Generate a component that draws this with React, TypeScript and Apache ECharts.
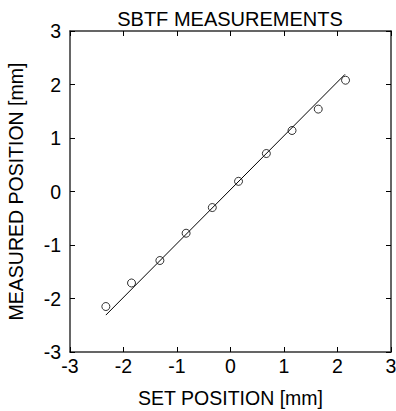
import React, { useEffect, useRef } from "react";
import * as echarts from "echarts";

const setPos = [-2.33, -1.85, -1.32, -0.83, -0.34, 0.15, 0.67, 1.15, 1.64, 2.15];
const measPos = [-2.15, -1.71, -1.29, -0.78, -0.3, 0.19, 0.71, 1.14, 1.54, 2.08];
const fitLine = [
  [-2.33, -2.31],
  [2.14, 2.19],
];
const ticks = [-3, -2, -1, 0, 1, 2, 3];

const FONT = "Liberation Sans, Arial, sans-serif";

export default function App() {
  const ref = useRef<HTMLDivElement>(null);
  useEffect(() => {
    if (!ref.current) return;
    const chart = echarts.init(ref.current, null, { renderer: "svg" });
    const axisLine = { show: true, onZero: false, lineStyle: { color: "#333", width: 1.5 } };
    const axisTick = { show: true, inside: true, length: 5, lineStyle: { color: "#000", width: 1 } };
    const base = {
      type: "value" as const,
      min: ticks[0],
      max: ticks[ticks.length - 1],
      interval: 1,
      splitLine: { show: false },
      axisLine,
      axisTick,
    };
    chart.setOption({
      animation: false,
      backgroundColor: "#fff",
      title: {
        text: "SBTF MEASUREMENTS",
        left: 225,
        textAlign: "center",
        top: 4,
        textStyle: { fontFamily: FONT, fontSize: 20, fontWeight: "normal", color: "#000" },
      },
      grid: {
        left: 70,
        top: 31,
        width: 321,
        height: 321,
        containLabel: false,
        outerBoundsMode: "none",
      },
      xAxis: [
        {
          ...base,
          position: "bottom",
          name: "SET POSITION [mm]",
          nameLocation: "middle",
          nameGap: 36,
          nameTextStyle: { fontFamily: FONT, fontSize: 19.5, color: "#000" },
          axisLabel: { fontFamily: FONT, fontSize: 19.5, color: "#000", margin: 4 },
        },
        { ...base, position: "top", axisLabel: { show: false } },
      ],
      yAxis: [
        {
          ...base,
          position: "left",
          name: "MEASURED POSITION [mm]",
          nameLocation: "middle",
          nameGap: 44,
          nameTextStyle: { fontFamily: FONT, fontSize: 19.5, color: "#000" },
          axisLabel: { fontFamily: FONT, fontSize: 19.5, color: "#000", margin: 9 },
        },
        { ...base, position: "right", axisLabel: { show: false } },
      ],
      series: [
        {
          type: "line",
          data: fitLine,
          showSymbol: false,
          symbol: "none",
          lineStyle: { color: "#000", width: 1 },
          silent: true,
        },
        {
          type: "scatter",
          data: setPos.map((x, i) => [x, measPos[i]]),
          symbol: "circle",
          symbolSize: 8,
          itemStyle: { color: "transparent", borderColor: "#000", borderWidth: 1 },
        },
      ],
    });
    return () => chart.dispose();
  }, []);
  return (
    <div
      ref={ref}
      style={{ position: "fixed", left: 0, top: 0, width: 396, height: 411 }}
    />
  );
}
